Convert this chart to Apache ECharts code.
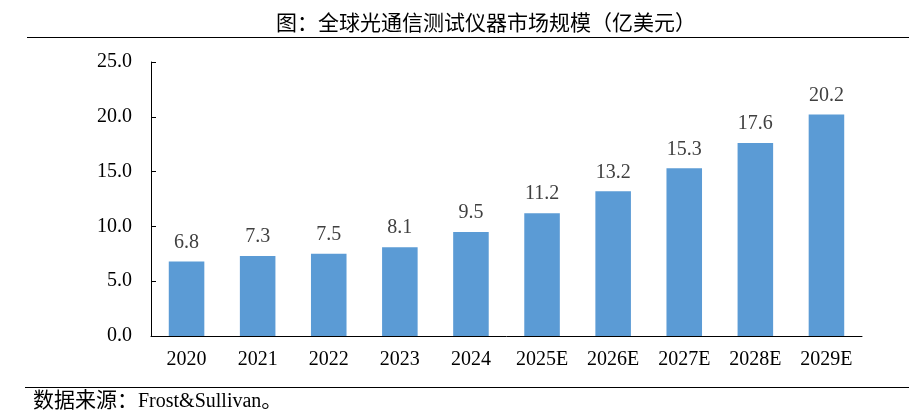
<!DOCTYPE html>
<html>
<head>
    <meta charset="utf-8">
    <title>全球光通信测试仪器市场规模</title>
    <script src="https://cdn.jsdelivr.net/npm/echarts@6/dist/echarts.min.js"></script>
    <style>
        html, body { margin: 0; padding: 0; background: #fff; }
        #main { width: 909px; height: 416px; }
    </style>
</head>
<body>
<div id="main"></div>
<script>
    // 数据
    var years = ['2020', '2021', '2022', '2023', '2024', '2025E', '2026E', '2027E', '2028E', '2029E'];
    var marketSize = [6.8, 7.3, 7.5, 8.1, 9.5, 11.2, 13.2, 15.3, 17.6, 20.2];
    var yMin = 0, yMax = 25, yStep = 5;

    var serif = "'Liberation Serif', 'Times New Roman', 'Noto Sans CJK SC', serif";

    var myChart = echarts.init(document.getElementById('main'));
    var option = {
        animation: false,
        title: {
            text: '图：全球光通信测试仪器市场规模（亿美元）',
            left: 271, top: 9,
            textStyle: {fontFamily: serif, fontSize: 21, fontWeight: 'normal', color: '#000'}
        },
        grid: {left: 151, right: 47, top: 62, bottom: 80},
        xAxis: {
            type: 'category',
            data: years,
            axisLine: {lineStyle: {color: '#000', width: 1}},
            axisTick: {show: false},
            axisLabel: {fontFamily: serif, fontSize: 20, color: '#000', margin: 14}
        },
        yAxis: {
            type: 'value',
            min: yMin, max: yMax, interval: yStep,
            axisLine: {show: true, lineStyle: {color: '#000', width: 1}},
            axisTick: {show: true, inside: true, length: 5, lineStyle: {color: '#000'}},
            splitLine: {show: false},
            axisLabel: {
                fontFamily: serif, fontSize: 20, color: '#000', margin: 19,
                formatter: function (v) { return v.toFixed(1); }
            }
        },
        series: [{
            type: 'bar',
            data: marketSize,
            barWidth: '50%',
            itemStyle: {color: '#5B9BD5'},
            label: {
                show: true, position: 'top', distance: 9,
                fontFamily: serif, fontSize: 20, color: '#404040',
                formatter: function (p) { return p.value.toFixed(1); }
            }
        }],
        graphic: [
            {type: 'line', shape: {x1: 27, y1: 37.5, x2: 909, y2: 37.5}, style: {stroke: '#000', lineWidth: 1.2}},
            {type: 'line', shape: {x1: 25, y1: 387.5, x2: 909, y2: 387.5}, style: {stroke: '#000', lineWidth: 1.2}},
            {
                type: 'text', left: 33, top: 391,
                style: {
                    text: '{cn|数据来源：}{en|Frost&Sullivan}{cn|。}',
                    rich: {
                        cn: {fontFamily: serif, fontSize: 21, fill: '#000'},
                        en: {fontFamily: serif, fontSize: 20, fill: '#000'}
                    }
                }
            }
        ]
    };
    myChart.setOption(option);
</script>
</body>
</html>
